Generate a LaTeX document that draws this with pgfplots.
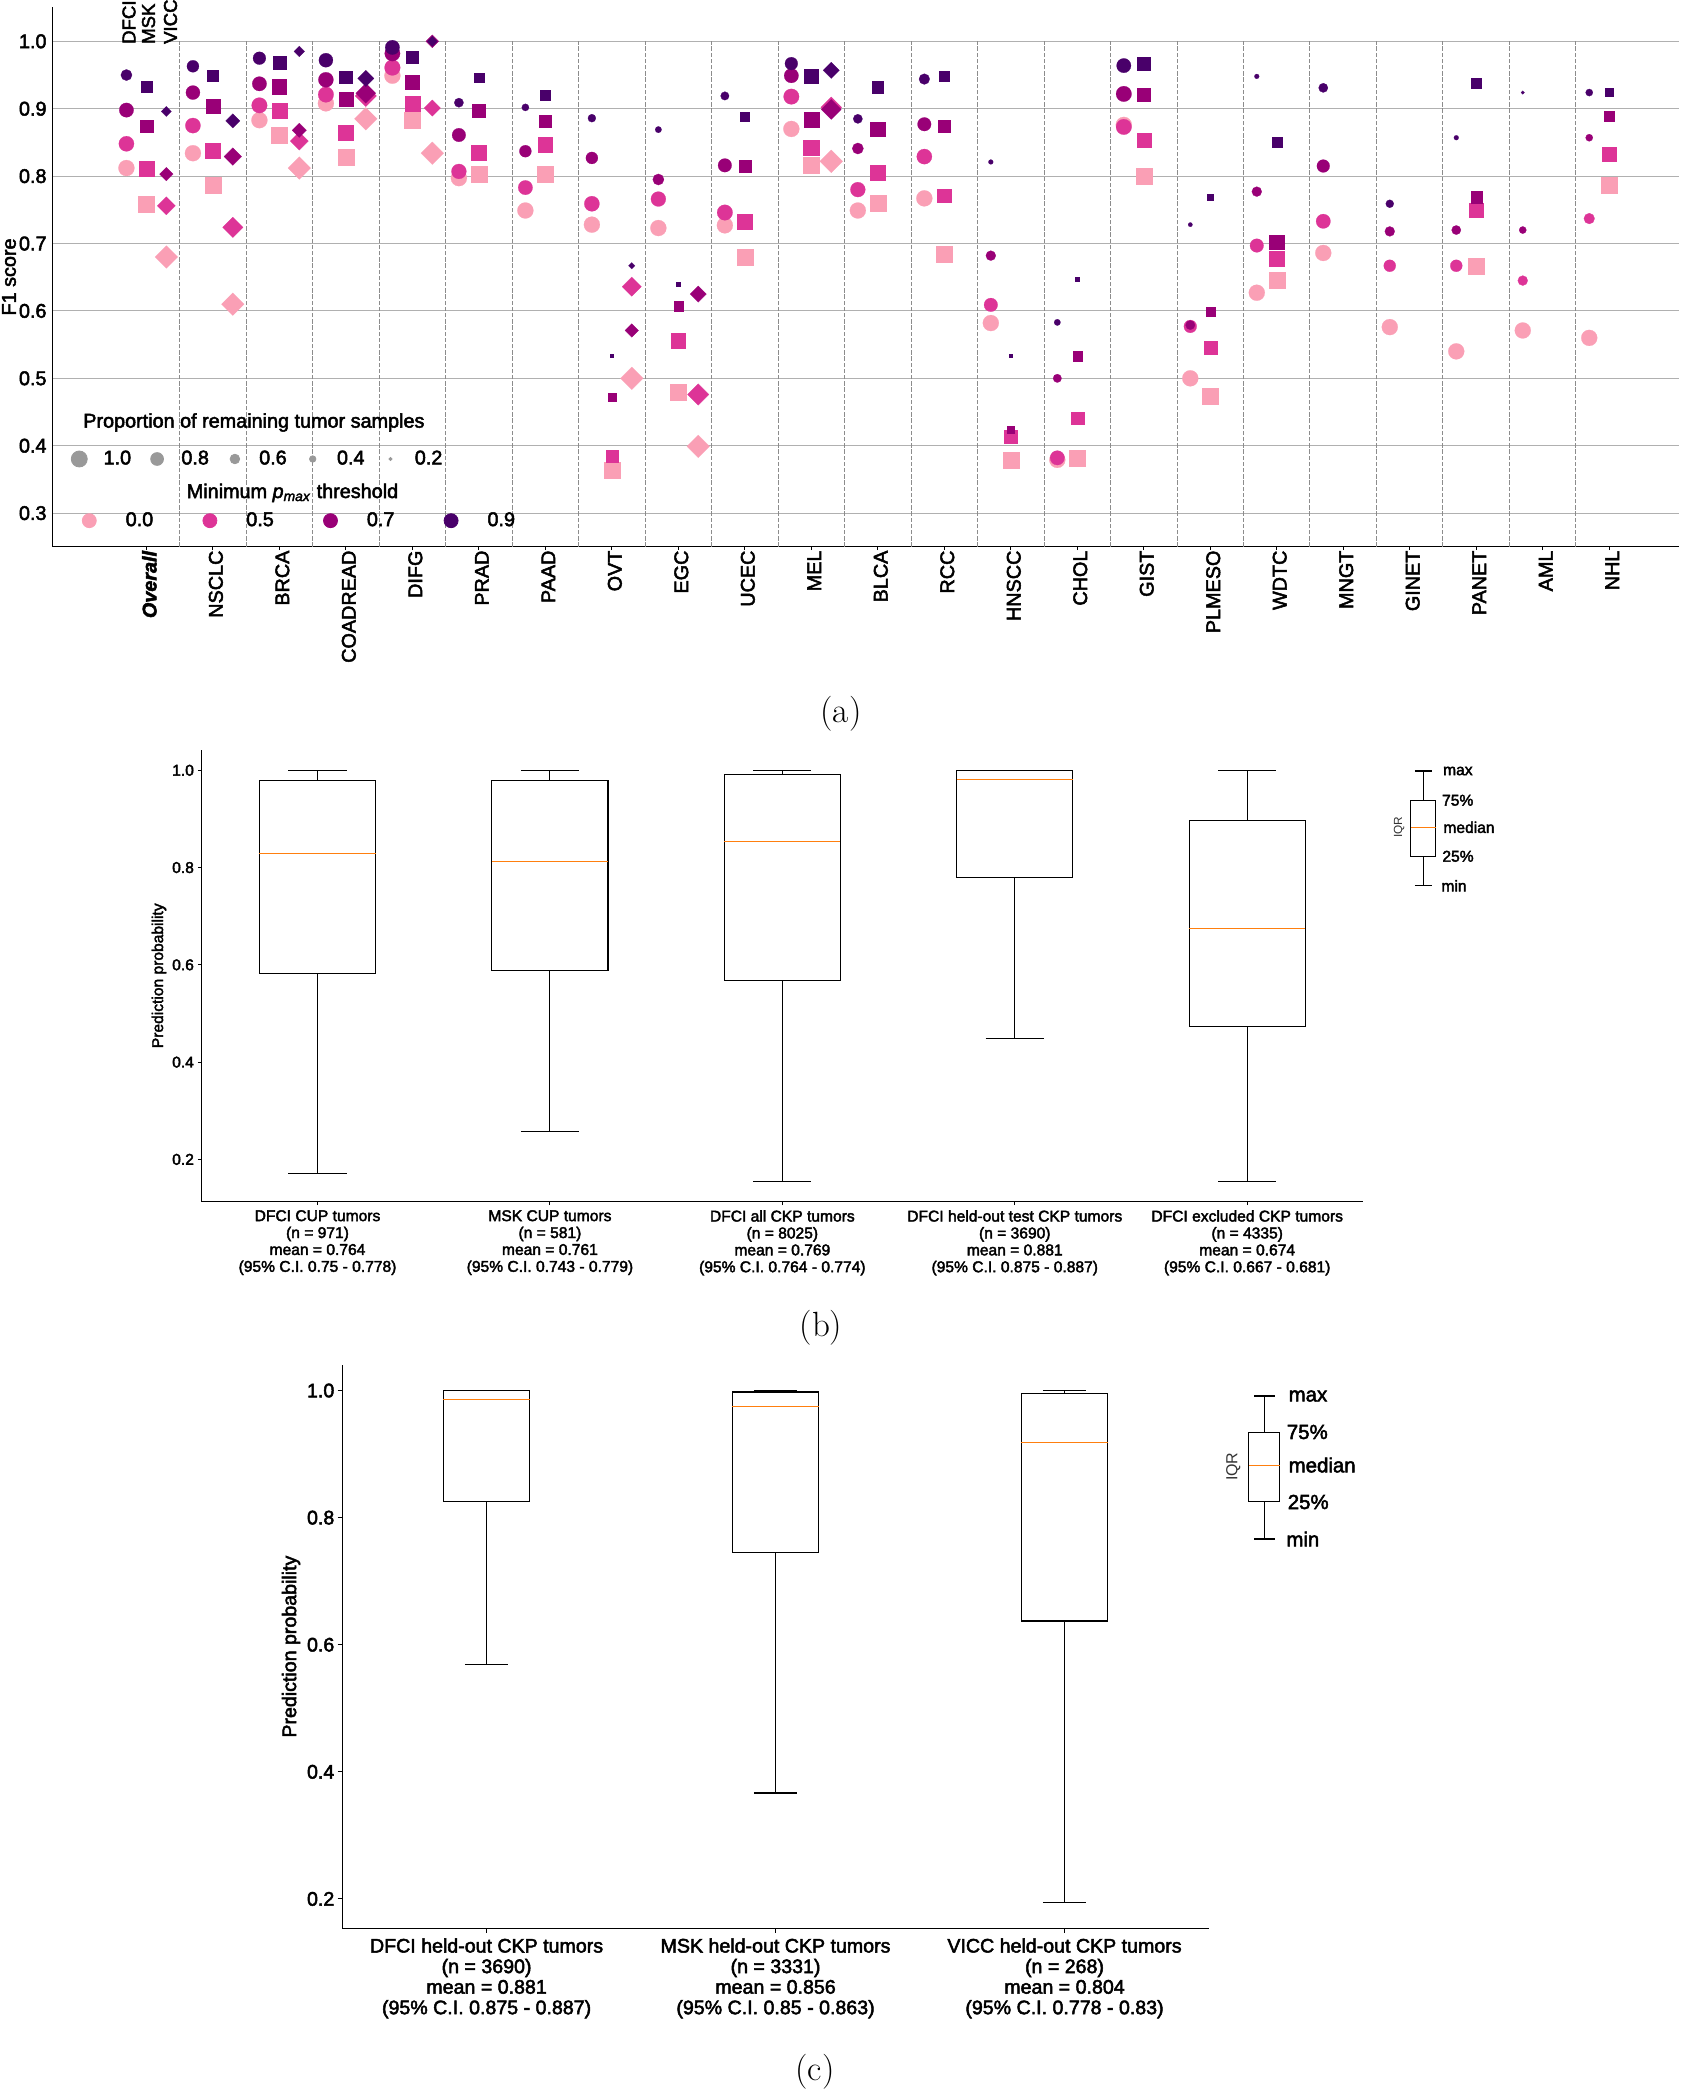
\documentclass[border=0pt]{standalone}
\usepackage{pgfplots}
\pgfplotsset{compat=1.18}
\usepackage{pgfplotstable}
\usepgfplotslibrary{statistics}
\usepackage{fontspec}
\newfontfamily\arial[FakeBold=2.5]{Liberation Sans}
\newfontfamily\arialthin{Liberation Sans}
\definecolor{c0}{HTML}{FA9FB5}
\definecolor{c5}{HTML}{DD3497}
\definecolor{c7}{HTML}{990077}
\definecolor{c9}{HTML}{49006A}
\definecolor{gridgray}{HTML}{B0B0B0}
\definecolor{sepgray}{HTML}{8C8C8C}
\definecolor{legray}{HTML}{999999}
\definecolor{medorange}{HTML}{FF7F0E}
\newcommand\fa{\arial\fontsize{9.9}{11.5}\selectfont}
\newcommand\fb{\arial\fontsize{7.8}{8.45}\selectfont}
\newcommand\fc{\arial\fontsize{9.8}{10.28}\selectfont}

% DFCI (circles): F1 score (y) and proportion of remaining samples (p) per p_max threshold
\pgfplotstableread{
i y0 p0 y5 p5 y7 p7 y9 p9
0 0.812 1 0.848 0.95 0.898 0.90 0.950 0.70
1 0.834 1 0.875 0.95 0.924 0.88 0.963 0.75
2 0.883 1 0.905 0.97 0.937 0.90 0.975 0.80
3 0.908 1 0.921 0.97 0.943 0.94 0.972 0.88
4 0.949 1 0.961 0.98 0.982 0.96 0.991 0.90
5 0.797 1 0.807 0.93 0.861 0.85 0.909 0.58
6 0.749 1 0.783 0.90 0.837 0.75 0.902 0.45
7 0.728 1 0.759 0.95 0.827 0.75 0.886 0.50
8 0.723 1 0.766 0.93 0.795 0.70 0.869 0.40
9 0.727 1 0.746 0.97 0.816 0.85 0.919 0.53
10 0.870 1 0.918 0.97 0.949 0.90 0.967 0.80
11 0.749 1 0.780 0.93 0.841 0.70 0.885 0.58
12 0.767 1 0.829 0.95 0.877 0.85 0.944 0.67
13 0.582 1 0.609 0.85 0.682 0.62 0.821 0.30
14 0.379 1 0.382 0.90 0.500 0.53 0.583 0.40
15 0.876 1 0.873 0.97 0.922 0.97 0.964 0.90
16 0.500 1 0.577 0.80 0.579 0.58 0.728 0.27
17 0.627 1 0.697 0.85 0.777 0.62 0.948 0.30
18 0.686 1 0.733 0.90 0.815 0.80 0.931 0.58
19 0.576 1 0.667 0.75 0.718 0.62 0.759 0.50
20 0.540 1 0.667 0.75 0.720 0.58 0.857 0.30
21 0.571 1 0.645 0.62 0.720 0.45 0.924 0.22
22 0.560 1 0.737 0.67 0.857 0.45 0.924 0.45
}\dfci

% MSK (squares)
\pgfplotstableread{
i y0 p0 y5 p5 y7 p7 y9 p9
0 0.759 1 0.811 0.93 0.874 0.78 0.933 0.67
1 0.786 1 0.838 0.95 0.904 0.85 0.949 0.70
2 0.861 1 0.897 0.95 0.933 0.90 0.969 0.80
3 0.828 1 0.864 0.95 0.914 0.90 0.947 0.80
4 0.883 1 0.908 0.95 0.940 0.88 0.977 0.75
5 0.803 1 0.835 0.95 0.897 0.80 0.946 0.60
6 0.803 1 0.847 0.90 0.881 0.75 0.920 0.60
7 0.364 1 0.384 0.75 0.472 0.50 0.534 0.22
8 0.480 1 0.556 0.88 0.607 0.58 0.640 0.27
9 0.680 1 0.733 0.93 0.815 0.75 0.888 0.53
10 0.817 1 0.842 0.97 0.884 0.93 0.948 0.85
11 0.760 1 0.805 0.95 0.870 0.90 0.932 0.70
12 0.684 1 0.771 0.85 0.874 0.72 0.949 0.62
13 0.379 1 0.414 0.80 0.424 0.45 0.534 0.22
14 0.381 1 0.441 0.80 0.533 0.58 0.647 0.27
15 0.800 1 0.854 0.88 0.921 0.80 0.967 0.80
16 0.473 1 0.545 0.80 0.599 0.58 0.769 0.35
17 0.645 1 0.677 0.93 0.702 0.90 0.851 0.62
20 0.667 1 0.750 0.90 0.769 0.70 0.938 0.58
22 0.786 1 0.833 0.85 0.889 0.67 0.924 0.50
}\msk

% VICC (diamonds)
\pgfplotstableread{
i y0 p0 y5 p5 y7 p7 y9 p9
0 0.680 1 0.756 0.80 0.803 0.60 0.896 0.45
1 0.610 1 0.724 0.90 0.829 0.78 0.882 0.63
2 0.812 1 0.852 0.80 0.868 0.63 0.985 0.47
3 0.885 1 0.919 0.94 0.923 0.88 0.945 0.72
4 0.834 1 0.901 0.72 1.000 0.57 1.000 0.44
7 0.500 1 0.636 0.85 0.571 0.60 0.667 0.28
8 0.399 1 0.476 0.94 0.625 0.72 nan 0
10 0.822 1 0.902 0.92 0.899 0.88 0.957 0.72
}\vicc

\pgfplotsset{
  geoA/.style={at={(26.25pt,-3.55pt)}, anchor=north west, scale only axis,
    width=813.25pt, height=269.85pt, xmin=-1.412, xmax=23.05, ymin=0.25, ymax=1.0508},
  pts/.style n args={4}{scatter, only marks, mark=#1,
    scatter/use mapped color={draw=#3, fill=#3},
    mark options={line width=0.1pt}, #2,
    visualization depends on={4*\thisrow{#4} \as \pms},
    scatter/@pre marker code/.append style={/tikz/mark size=\pms}},
  dia/.style={mark options={rotate=45, line width=0.1pt}},
  bx/.style={black, line width=0.55pt, solid, boxplot/draw direction=y},
  legimg/.style={legend image code/.code={\path[draw=none, fill=none] (-6pt,-4.5pt) rectangle (6pt,4.5pt); \draw plot coordinates {(0pt,0pt)};}},
}

\begin{document}
\begin{tikzpicture}
\useasboundingbox (0pt,0pt) rectangle (841.5pt,-1046.5pt);

% ---------------- panel (a) ----------------
\begin{axis}[geoA,
  axis x line*=bottom, axis y line*=left,
  axis line style={-, line width=0.65pt},
  ytick={0.3,0.4,0.5,0.6,0.7,0.8,0.9,1.0},
  yticklabels={0.3,0.4,0.5,0.6,0.7,0.8,0.9,1.0},
  ymajorgrids, major grid style={gridgray, line width=0.55pt},
  xtick={0,1,...,22},
  xticklabels={\textbf{\textit{Overall}},NSCLC,BRCA,COADREAD,DIFG,PRAD,PAAD,OVT,EGC,UCEC,MEL,BLCA,RCC,HNSCC,CHOL,GIST,PLMESO,WDTC,MNGT,GINET,PANET,AML,NHL},
  tick align=outside, major tick length=1.7pt,
  ytick style={draw=none}, xtick style={black, line width=0.5pt},
  yticklabel style={font=\fa, inner sep=0pt, xshift=-1.1pt},
  xticklabel style={font=\fa, rotate=90, anchor=east, inner sep=0pt, yshift=-1.5pt},
  ylabel={F1 score},
  ylabel style={font=\fa, at={(axis description cs:-0.0312,0.5)}, anchor=north, inner sep=0pt},
]
\addplot[ycomb, sepgray, line width=0.5pt, dash pattern=on 2.2pt off 0.9pt, mark=none, forget plot]
  coordinates {(0.5,1) (1.5,1) (2.5,1) (3.5,1) (4.5,1) (5.5,1) (6.5,1) (7.5,1) (8.5,1) (9.5,1) (10.5,1)
  (11.5,1) (12.5,1) (13.5,1) (14.5,1) (15.5,1) (16.5,1) (17.5,1) (18.5,1) (19.5,1) (20.5,1) (21.5,1)};
% threshold 0.0
\addplot[pts={*}{}{c0}{p0}] table[x expr=\thisrow{i}-0.3, y=y0]{\dfci};
\addplot[pts={square*}{}{c0}{p0}] table[x=i, y=y0]{\msk};
\addplot[pts={square*}{dia}{c0}{p0}] table[x expr=\thisrow{i}+0.3, y=y0]{\vicc};
% threshold 0.5
\addplot[pts={*}{}{c5}{p5}] table[x expr=\thisrow{i}-0.3, y=y5]{\dfci};
\addplot[pts={square*}{}{c5}{p5}] table[x=i, y=y5]{\msk};
\addplot[pts={square*}{dia}{c5}{p5}] table[x expr=\thisrow{i}+0.3, y=y5]{\vicc};
% threshold 0.7
\addplot[pts={*}{}{c7}{p7}] table[x expr=\thisrow{i}-0.3, y=y7]{\dfci};
\addplot[pts={square*}{}{c7}{p7}] table[x=i, y=y7]{\msk};
\addplot[pts={square*}{dia}{c7}{p7}] table[x expr=\thisrow{i}+0.3, y=y7]{\vicc};
% threshold 0.9
\addplot[pts={*}{}{c9}{p9}] table[x expr=\thisrow{i}-0.3, y=y9]{\dfci};
\addplot[pts={square*}{}{c9}{p9}] table[x=i, y=y9]{\msk};
\addplot[pts={square*}{dia}{c9}{p9}] table[x expr=\thisrow{i}+0.3, y=y9]{\vicc};
\end{axis}

% size legend
\begin{axis}[geoA, hide axis, legimg,
  legend columns=5, legend cell align=left,
  legend style={at={(axis description cs:0.0091,0.1627)}, anchor=west, draw=none, fill=none,
    inner sep=0pt, outer sep=0pt, font=\fa, column sep=0pt, nodes={inner sep=0pt},
    /tikz/every odd column/.style={column sep=6.15pt},
    /tikz/every even column/.style={column sep=6.99pt}}]
\addlegendimage{mark=*, legray, mark size=4pt}\addlegendentry{1.0}
\addlegendimage{mark=*, legray, mark size=3.2pt}\addlegendentry{0.8}
\addlegendimage{mark=*, legray, mark size=2.4pt}\addlegendentry{0.6}
\addlegendimage{mark=*, legray, mark size=1.6pt}\addlegendentry{0.4}
\addlegendimage{mark=*, legray, mark size=0.8pt}\addlegendentry{0.2}
\end{axis}
% colour legend
\begin{axis}[geoA, hide axis, legimg,
  legend columns=4, legend cell align=left,
  legend style={at={(axis description cs:0.01525,0.0484)}, anchor=west, draw=none, fill=none,
    inner sep=0pt, outer sep=0pt, font=\fa, column sep=0pt, nodes={inner sep=0pt},
    /tikz/every odd column/.style={column sep=12.2pt},
    /tikz/every even column/.style={column sep=22.34pt}}]
\addlegendimage{mark=*, c0, mark size=3.5pt}\addlegendentry{0.0}
\addlegendimage{mark=*, c5, mark size=3.5pt}\addlegendentry{0.5}
\addlegendimage{mark=*, c7, mark size=3.5pt}\addlegendentry{0.7}
\addlegendimage{mark=*, c9, mark size=3.5pt}\addlegendentry{0.9}
\end{axis}

\node[font=\fa, anchor=west, inner sep=0pt] at (41.45pt,-211.25pt) {Proportion of remaining tumor samples};
\node[font=\fa, anchor=west, inner sep=0pt] at (93.2pt,-246.45pt) {Minimum \textit{p}\textsubscript{\textit{max}} threshold};
\node[font=\arial\fontsize{9.3}{11}\selectfont, rotate=90, anchor=west, inner sep=0pt] at (64.5pt,-22.15pt) {DFCI};
\node[font=\arial\fontsize{9.3}{11}\selectfont, rotate=90, anchor=west, inner sep=0pt] at (74.25pt,-22.15pt) {MSK};
\node[font=\arial\fontsize{9.3}{11}\selectfont, rotate=90, anchor=west, inner sep=0pt] at (85.25pt,-22.15pt) {VICC};
\node[font=\fontsize{17.5}{20}\selectfont] at (420.5pt,-357pt) {(a)};

% ---------------- panel (b) ----------------
\begin{axis}[at={(100.65pt,-374.85pt)}, anchor=north west, scale only axis,
  width=581.05pt, height=226.05pt, xmin=0.5, xmax=5.5, ymin=0.1128, ymax=1.0423,
  axis x line*=bottom, axis y line*=left,
  axis line style={-, line width=0.6pt},
  xtick={1,2,3,4,5},
  xticklabels={{DFCI CUP tumors\\(n = 971)\\mean = 0.764\\(95\% C.I. 0.75 - 0.778)},
    {MSK CUP tumors\\(n = 581)\\mean = 0.761\\(95\% C.I. 0.743 - 0.779)},
    {DFCI all CKP tumors\\(n = 8025)\\mean = 0.769\\(95\% C.I. 0.764 - 0.774)},
    {DFCI held-out test CKP tumors\\(n = 3690)\\mean = 0.881\\(95\% C.I. 0.875 - 0.887)},
    {DFCI excluded CKP tumors\\(n = 4335)\\mean = 0.674\\(95\% C.I. 0.667 - 0.681)}},
  ytick={0.2,0.4,0.6,0.8,1.0}, yticklabels={0.2,0.4,0.6,0.8,1.0},
  tick align=outside, major tick length=1.7pt, tick style={black, line width=0.5pt},
  yticklabel style={font=\fb, inner sep=0pt, xshift=-1.8pt},
  xticklabel style={font=\fb, align=center, anchor=north, inner sep=0pt, yshift=-2.3pt},
  ylabel={Prediction probability},
  ylabel style={font=\fb, at={(axis description cs:-0.0364,0.5)}, anchor=center, inner sep=0pt},
  boxplot/every median/.style={draw=medorange, line width=0.55pt},
]
\addplot[bx, boxplot prepared={draw position=1, box extend=0.5, whisker extend=0.25,
  lower whisker=0.1719, lower quartile=0.5825, median=0.8297, upper quartile=0.9795, upper whisker=1.0}] coordinates {};
\addplot[bx, boxplot prepared={draw position=2, box extend=0.5, whisker extend=0.25,
  lower whisker=0.2578, lower quartile=0.5886, median=0.8129, upper quartile=0.9795, upper whisker=1.0}] coordinates {};
\addplot[bx, boxplot prepared={draw position=3, box extend=0.5, whisker extend=0.25,
  lower whisker=0.1551, lower quartile=0.5681, median=0.8540, upper quartile=0.9909, upper whisker=1.0}] coordinates {};
\addplot[bx, boxplot prepared={draw position=4, box extend=0.5, whisker extend=0.25,
  lower whisker=0.4494, lower quartile=0.7802, median=0.9817, upper quartile=1.0, upper whisker=1.0}] coordinates {};
\addplot[bx, boxplot prepared={draw position=5, box extend=0.5, whisker extend=0.25,
  lower whisker=0.1551, lower quartile=0.4738, median=0.6745, upper quartile=0.8973, upper whisker=1.0}] coordinates {};
\end{axis}
% key glyph (b)
\begin{axis}[at={(701.65pt,-385.5pt)}, anchor=north west, scale only axis, width=20pt, height=57.35pt,
  xmin=0, xmax=2, ymin=0, ymax=4, hide axis, clip=false,
  boxplot/every median/.style={draw=medorange, line width=0.55pt}]
\addplot[bx, boxplot prepared={draw position=1, box extend=1.25, whisker extend=0.835,
  lower whisker=0, lower quartile=1.03, median=2.04, upper quartile=2.98, upper whisker=4}] coordinates {};
\end{axis}
\node[font=\fb, anchor=west, inner sep=0pt] at (721.35pt,-385.5pt) {max};
\node[font=\fb, anchor=west, inner sep=0pt] at (720.85pt,-400.15pt) {75\%};
\node[font=\fb, anchor=west, inner sep=0pt] at (721.5pt,-413.65pt) {median};
\node[font=\fb, anchor=west, inner sep=0pt] at (721pt,-428.15pt) {25\%};
\node[font=\fb, anchor=west, inner sep=0pt] at (720.5pt,-442.85pt) {min};
\node[font=\arialthin\fontsize{5.9}{7}\selectfont, text=black!80, rotate=90, inner sep=0pt] at (699.5pt,-413.5pt) {IQR};
\node[font=\fontsize{17.5}{20}\selectfont] at (410.5pt,-664pt) {(b)};

% ---------------- panel (c) ----------------
\begin{axis}[at={(171.05pt,-682.45pt)}, anchor=north west, scale only axis,
  width=433.45pt, height=281.7pt, xmin=0.5, xmax=3.5, ymin=0.1537, ymax=1.0403,
  axis x line*=bottom, axis y line*=left,
  axis line style={-, line width=0.6pt},
  xtick={1,2,3},
  xticklabels={{DFCI held-out CKP tumors\\(n = 3690)\\mean = 0.881\\(95\% C.I. 0.875 - 0.887)},
    {MSK held-out CKP tumors\\(n = 3331)\\mean = 0.856\\(95\% C.I. 0.85 - 0.863)},
    {VICC held-out CKP tumors\\(n = 268)\\mean = 0.804\\(95\% C.I. 0.778 - 0.83)}},
  ytick={0.2,0.4,0.6,0.8,1.0}, yticklabels={0.2,0.4,0.6,0.8,1.0},
  tick align=outside, major tick length=2.2pt, tick style={black, line width=0.5pt},
  yticklabel style={font=\fc, inner sep=0pt, xshift=-1.5pt},
  xticklabel style={font=\fc, align=center, anchor=north, inner sep=0pt, yshift=-2.6pt},
  ylabel={Prediction probability},
  ylabel style={font=\fc, at={(axis description cs:-0.0589,0.5)}, anchor=center, inner sep=0pt},
  boxplot/every median/.style={draw=medorange, line width=0.55pt},
]
\addplot[bx, boxplot prepared={draw position=1, box extend=0.3, whisker extend=0.15,
  lower whisker=0.5695, lower quartile=0.8258, median=0.9857, upper quartile=1.0, upper whisker=1.0}] coordinates {};
\addplot[bx, boxplot prepared={draw position=2, box extend=0.3, whisker extend=0.15,
  lower whisker=0.3667, lower quartile=0.7452, median=0.9744, upper quartile=0.9977, upper whisker=1.0}] coordinates {};
\addplot[bx, boxplot prepared={draw position=3, box extend=0.3, whisker extend=0.15,
  lower whisker=0.1940, lower quartile=0.6374, median=0.9186, upper quartile=0.9947, upper whisker=1.0}] coordinates {};
\end{axis}
% key glyph (c)
\begin{axis}[at={(622.15pt,-698pt)}, anchor=north west, scale only axis, width=20pt, height=71.5pt,
  xmin=0, xmax=2, ymin=0, ymax=4, hide axis, clip=false,
  boxplot/every median/.style={draw=medorange, line width=0.55pt}]
\addplot[bx, boxplot prepared={draw position=1, box extend=1.545, whisker extend=1.025,
  lower whisker=0, lower quartile=1.043, median=2.06, upper quartile=2.985, upper whisker=4}] coordinates {};
\end{axis}
\node[font=\arial\fontsize{10.2}{12}\selectfont, anchor=west, inner sep=0pt] at (644.15pt,-698pt) {max};
\node[font=\arial\fontsize{10.2}{12}\selectfont, anchor=west, inner sep=0pt] at (643.25pt,-716pt) {75\%};
\node[font=\arial\fontsize{10.2}{12}\selectfont, anchor=west, inner sep=0pt] at (644.15pt,-732.5pt) {median};
\node[font=\arial\fontsize{10.2}{12}\selectfont, anchor=west, inner sep=0pt] at (643.7pt,-751pt) {25\%};
\node[font=\arial\fontsize{10.2}{12}\selectfont, anchor=west, inner sep=0pt] at (643pt,-769.5pt) {min};
\node[font=\arialthin\fontsize{8}{9}\selectfont, text=black!80, rotate=90, inner sep=0pt] at (616.7pt,-733.35pt) {IQR};
\node[font=\fontsize{17.5}{20}\selectfont] at (407.5pt,-1036pt) {(c)};
\end{tikzpicture}
\end{document}
